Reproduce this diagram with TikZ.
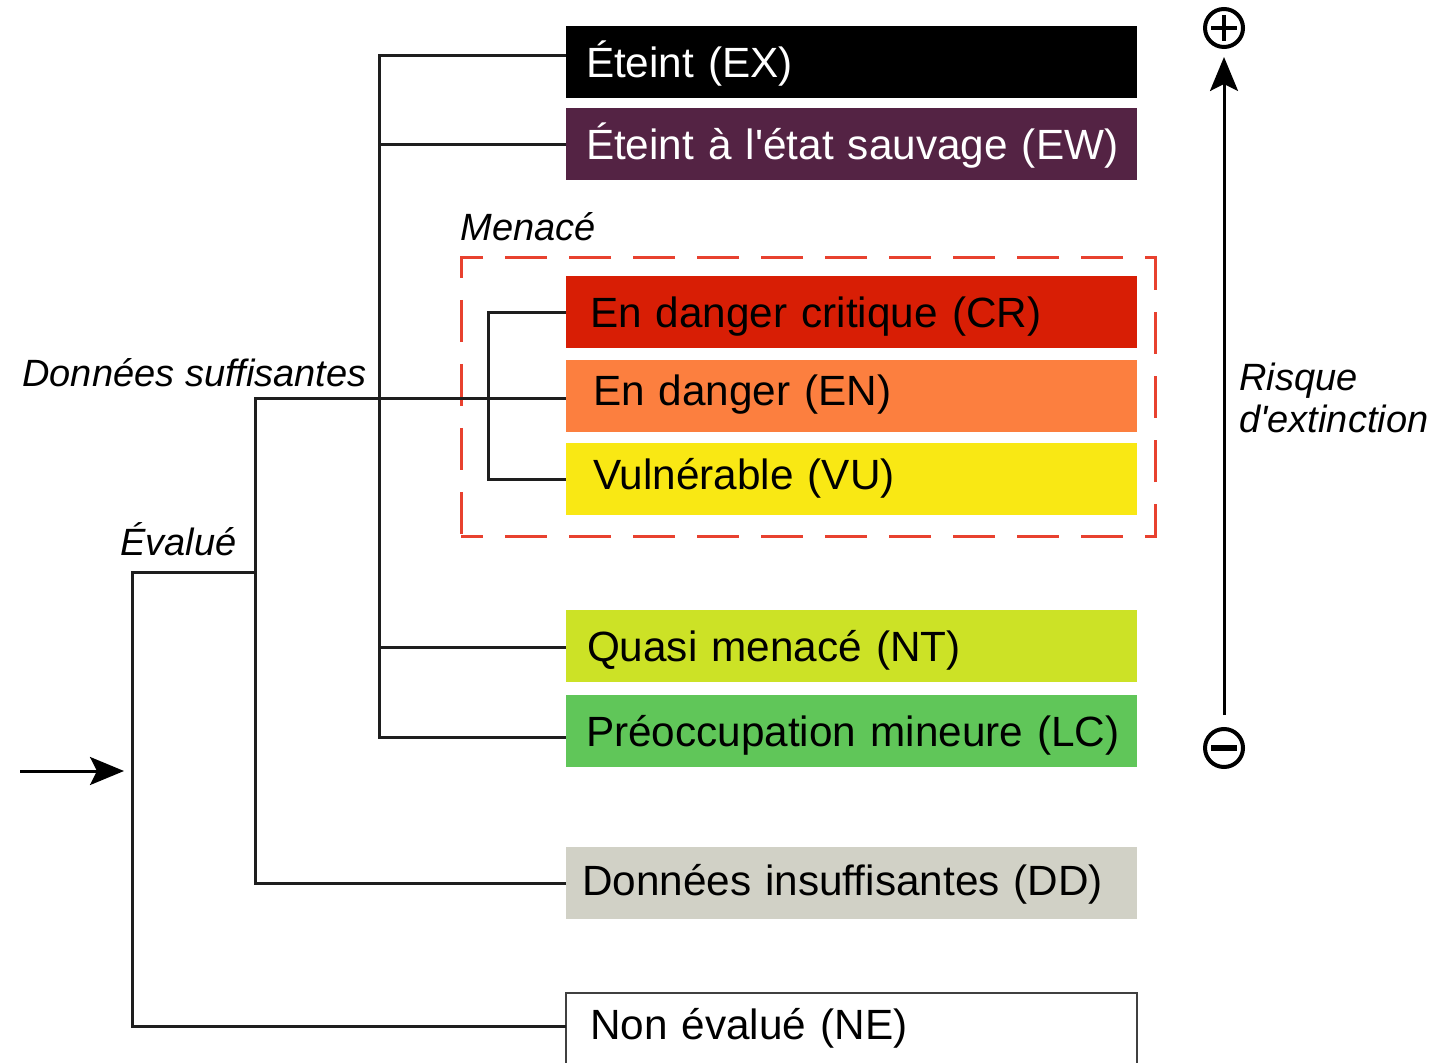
\documentclass[tikz,border=0pt]{standalone}
\usepackage{fontspec}
\setmainfont{Liberation Sans}
\usetikzlibrary{arrows.meta,calc}
\definecolor{cEX}{HTML}{000000}
\definecolor{cEW}{HTML}{542344}
\definecolor{cCR}{HTML}{D81E05}
\definecolor{cEN}{HTML}{FC7F3F}
\definecolor{cVU}{HTML}{F9E814}
\definecolor{cNT}{HTML}{CCE226}
\definecolor{cLC}{HTML}{60C659}
\definecolor{cDD}{HTML}{D1D1C6}
\definecolor{cMen}{HTML}{E8412F}
\definecolor{cLine}{HTML}{1E1E1E}
\begin{document}
\begin{tikzpicture}[x=0.5pt,y=-0.5pt,
  cat/.style={anchor=north west, inner sep=0pt, outer sep=0pt,
    minimum width=285.5pt, minimum height=36pt, text width=285.5pt, align=left,
    font=\fontsize{21.15pt}{24pt}\selectfont, text height=15.3pt, text depth=0pt,
    execute at begin node={\hspace*{#1}}},
  cat/.default=10pt,
  lab/.style={anchor=base west, inner sep=0pt, font=\itshape\fontsize{19pt}{21pt}\selectfont},
  conn/.style={draw=cLine, line width=1.5pt},
  arr/.style={draw=black, line width=1.5pt, -{Stealth[length=17pt, width=14pt, inset=3.5pt]}},
  sym/.style={circle, draw=black, line width=2pt, minimum size=19pt, inner sep=0pt},
  menace/.style={draw=cMen, line width=1.5pt, dash pattern=on 21pt off 11pt, dash phase=10pt}
]
\useasboundingbox (0,0) rectangle (1433,1063);

% category boxes
\node[cat=10pt, fill=cEX, text=white] (ex) at (566,26) {Éteint (EX)};
\node[cat=10pt, fill=cEW, text=white] (ew) at (566,108) {Éteint à l\textquotesingle état sauvage (EW)};
\node[cat=12pt, fill=cCR] (cr) at (566,276) {En danger critique (CR)};
\node[cat=13.5pt, fill=cEN, text height=9.5pt] (en) at (566,360) {En danger (EN)};
\node[cat=13.5pt, fill=cVU, text height=10.5pt] (vu) at (566,443) {Vulnérable (VU)};
\node[cat=10.5pt, fill=cNT] (nt) at (566,610) {Quasi menacé (NT)};
\node[cat=10pt, fill=cLC] (lc) at (566,695) {Préoccupation mineure (LC)};
\node[cat=8pt, fill=cDD, text height=12.5pt] (dd) at (566,847) {Données insuffisantes (DD)};
\node[cat=12pt, fill=white, draw=black!75, line width=1pt, text height=10.5pt] (ne) at (566,993) {Non évalué (NE)};

% threatened group
\node[menace, minimum width=347pt, minimum height=139pt, inner sep=0pt] (menbox) at (808,397) {};
\node[lab] (lmen) at (460,241) {Menacé};
\node[lab] (lds) at (22,387) {Données suffisantes};
\node[lab] (lev) at (120,555) {Évalué};

% junctions
\coordinate (jEX) at ([yshift=3pt]ex.west);
\coordinate (jEW) at ([yshift=-0.5pt]ew.west);
\coordinate (jCR) at ([yshift=-0.5pt]cr.west);
\coordinate (jEN) at ([yshift=-1.5pt]en.west);
\coordinate (jVU) at (vu.west);
\coordinate (jNT) at ([yshift=-0.5pt]nt.west);
\coordinate (jLC) at ([yshift=-3pt]lc.west);
\coordinate (jDD) at (dd.west);
\coordinate (jNE) at ([yshift=1.5pt]ne.west);
\coordinate (trunk) at (379,0);
\coordinate (dsx) at (255,0);
\coordinate (evx) at (132,0);
\coordinate (mx) at (488,0);
\coordinate (evy) at (0,572);

% tree connectors
\draw[conn] (jEX) -| (trunk |- jLC) -- (jLC);
\draw[conn] (jEW) -- (trunk |- jEW);
\draw[conn] (jNT) -- (trunk |- jNT);
\draw[conn] (jDD) -| (dsx |- jEN) -- (jEN);
\draw[conn] (jNE) -| (evx |- evy) -- (dsx |- evy);
\draw[conn] (jCR) -| (mx |- jVU) -- (jVU);

% entry arrow
\coordinate (inS) at (20,771);
\coordinate (inE) at (124,771);
\draw[arr] (inS) -- (inE);

% risk axis
\node[sym] (plus) at (1224,28) {};
\node[sym] (minus) at (1224,748) {};
\draw[line width=2.2pt] ($(plus)+(-13,0)$) -- ($(plus)+(13,0)$)
                        ($(plus)+(0,-13)$) -- ($(plus)+(0,13)$);
\draw[line width=2.6pt] ($(minus)+(-13,0)$) -- ($(minus)+(13,0)$);
\draw[arr, shorten <=6pt, shorten >=4pt] (minus.north) -- (plus.south);
\node[anchor=north west, inner sep=0pt, align=left,
      font=\itshape\fontsize{19pt}{21pt}\selectfont] (risk) at (1239,363) {Risque\\d\textquotesingle extinction};
\end{tikzpicture}
\end{document}
